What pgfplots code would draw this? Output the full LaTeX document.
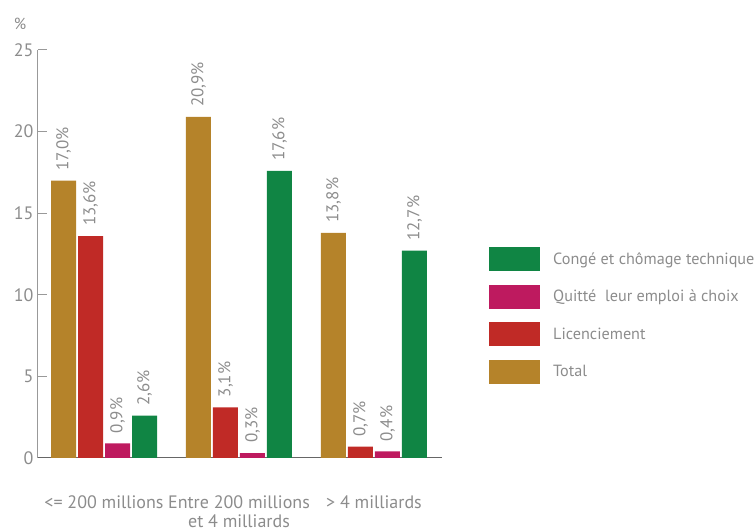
\documentclass[border=0pt]{standalone}
\usepackage{fontspec}
\setmainfont{PT Sans}
\usepackage{pgfplots}
\pgfplotsset{compat=1.18}
\definecolor{cgold}{HTML}{B5832A}
\definecolor{cred}{HTML}{C02A26}
\definecolor{cmag}{HTML}{BE1A5F}
\definecolor{cgreen}{HTML}{108544}
\definecolor{cgray}{HTML}{8C8C8C}
\pgfplotsset{mylegend/.style={legend image code/.code={\fill[##1] (0pt,-12pt) rectangle (51pt,12pt);}}}
\begin{document}
\begin{tikzpicture}
\begin{axis}[
  at={(0,0)}, anchor=south west,
  scale only axis, width=404pt, height=408pt,
  ybar=2pt, bar width=25pt,
  xmin=-0.489, xmax=2.504, ymin=0, ymax=25,
  axis x line*=bottom, axis y line*=left,
  x axis line style={draw=black!60, line width=1pt},
  y axis line style={draw=black!40, line width=1pt},
  xtick={0,1,2},
  xticklabels={{<= 200 millions},{Entre 200 millions\\et 4 milliards},{> 4 milliards}},
  xtick style={draw=none},
  xticklabel style={align=center, font=\fontsize{18}{19}\selectfont, text=cgray, anchor=north, yshift=-34pt},
  ytick={0,5,10,15,20},
  extra y ticks={25},
  extra y tick style={major tick style={draw=black, line width=1pt}},
  tick align=inside,
  major tick length=9pt,
  ytick style={draw=black!40, line width=1pt},
  yticklabel style={font=\fontsize{18}{18}\selectfont, text=cgray, xshift=-1pt},
  /pgf/number format/assume math mode=true,
  nodes near coords={\pgfmathprintnumber[fixed, fixed zerofill, precision=1, use comma]{\pgfplotspointmeta}\%},
  nodes near coords style={rotate=90, anchor=west, font=\fontsize{17}{17}\selectfont, text=cgray, inner xsep=10pt, inner ysep=0pt},
  reverse legend,
  legend style={at={(1.109,0.522)}, anchor=north west, draw=none, fill=none,
    font=\fontsize{16.2}{16.2}\selectfont, text=cgray, row sep=13.5pt, column sep=13pt,
    nodes={inner sep=0pt}},
  legend cell align=left,
  clip=false,
]
\addplot[fill=cgold, draw=none, mylegend] coordinates {(0,17.0) (1,20.9) (2,13.8)};
\addlegendentry{Total}
\addplot[fill=cred, draw=none, mylegend] coordinates {(0,13.6) (1,3.1) (2,0.7)};
\addlegendentry{Licenciement}
\addplot[fill=cmag, draw=none, mylegend] coordinates {(0,0.9) (1,0.3) (2,0.4)};
\addlegendentry{Quitté\ \ leur emploi à choix}
\addplot[fill=cgreen, draw=none, mylegend] coordinates {(0,2.6) (1,17.6) (2,12.7)};
\addlegendentry{Congé et chômage technique}
\node[text=cgray, font=\fontsize{16}{16}\selectfont] at (rel axis cs:0,1) [xshift=-18pt, yshift=26pt] {\%};
\end{axis}
\pgfresetboundingbox
\path[use as bounding box] (-38pt,-74pt) rectangle (718pt,458pt);
\end{tikzpicture}
\end{document}
